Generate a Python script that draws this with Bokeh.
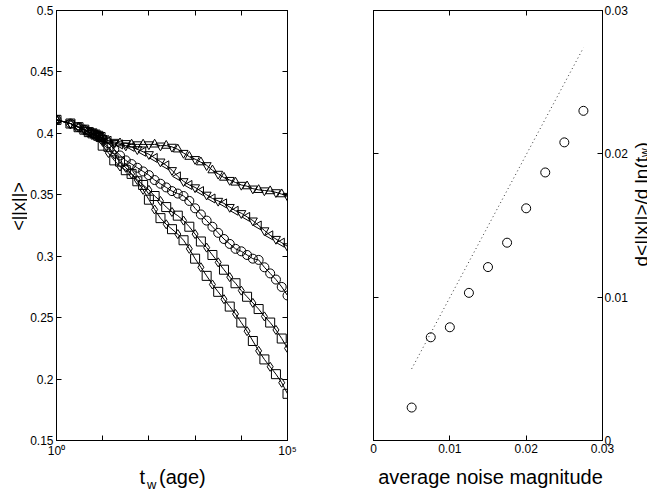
import math
from bokeh.plotting import figure
from bokeh.layouts import row, column
from bokeh.models import (LinearAxis, LogAxis, FixedTicker, CustomJSTickFormatter,
                          Range1d, Label, ColumnDataSource)
from bokeh.embed import file_html
from bokeh.resources import INLINE

# ---------------- data ----------------
t_w = [1, 2, 3, 4, 5, 6, 7, 8, 9, 10,
       13.3, 17.8, 23.7, 31.6, 42.2, 56.2, 75.0, 100,
       133, 178, 237, 316, 422, 562, 750, 1000,
       1334, 1778, 2371, 3162, 4217, 5623, 7499, 10000,
       13335, 17783, 23714, 31623, 42170, 56234, 74989, 100000]

x_a = [0.411, 0.408, 0.405, 0.403, 0.401, 0.400, 0.399, 0.398, 0.397, 0.396,
       0.394, 0.393, 0.392, 0.392, 0.391, 0.391, 0.391, 0.391,
       0.391, 0.390, 0.390, 0.389, 0.387, 0.384, 0.381, 0.379,
       0.3765, 0.374, 0.370, 0.367, 0.364, 0.362, 0.360, 0.358,
       0.357, 0.355, 0.354, 0.3535, 0.353, 0.352, 0.3505, 0.349]
x_b = [0.411, 0.408, 0.405, 0.403, 0.401, 0.400, 0.399, 0.398, 0.397, 0.396,
       0.394, 0.392, 0.391, 0.390, 0.389, 0.387, 0.385, 0.383,
       0.380, 0.377, 0.374, 0.370, 0.365, 0.361, 0.358, 0.356,
       0.353, 0.350, 0.347, 0.345, 0.343, 0.340, 0.337, 0.335,
       0.332, 0.329, 0.325, 0.321, 0.317, 0.314, 0.311, 0.308]
x_c = [0.411, 0.408, 0.405, 0.403, 0.401, 0.400, 0.399, 0.398, 0.397, 0.395,
       0.392, 0.387, 0.382, 0.378, 0.375, 0.372, 0.369, 0.366,
       0.362, 0.359, 0.356, 0.353, 0.351, 0.349, 0.345, 0.339,
       0.334, 0.329, 0.324, 0.319, 0.314, 0.310, 0.306, 0.304,
       0.301, 0.298, 0.297, 0.291, 0.286, 0.281, 0.275, 0.268]
x_d = [0.411, 0.408, 0.405, 0.403, 0.401, 0.400, 0.399, 0.398, 0.397, 0.393,
       0.389, 0.383, 0.377, 0.372, 0.367, 0.362, 0.358, 0.354,
       0.349, 0.345, 0.340, 0.336, 0.333, 0.329, 0.324, 0.318,
       0.312, 0.307, 0.301, 0.295, 0.289, 0.283, 0.278, 0.272,
       0.267, 0.262, 0.257, 0.251, 0.246, 0.240, 0.233, 0.225]
x_e = [0.411, 0.408, 0.405, 0.403, 0.401, 0.400, 0.399, 0.398, 0.397, 0.390,
       0.384, 0.378, 0.373, 0.370, 0.367, 0.361, 0.354, 0.346,
       0.338, 0.331, 0.326, 0.322, 0.318, 0.313, 0.306, 0.298,
       0.291, 0.284, 0.277, 0.271, 0.265, 0.259, 0.253, 0.246,
       0.239, 0.231, 0.223, 0.216, 0.210, 0.204, 0.197, 0.188]

noise = [0.005, 0.0075, 0.01, 0.0125, 0.015, 0.0175, 0.02, 0.0225, 0.025, 0.0275]
slope = [0.0023, 0.0072, 0.0079, 0.0103, 0.0121, 0.0138, 0.0162, 0.0187, 0.0208, 0.0230]
ref_x = [0.005, 0.0275]
ref_y = [0.005, 0.0274]

left_yticks = [0.15, 0.2, 0.25, 0.3, 0.35, 0.4, 0.45, 0.5]
left_xticks = [1, 10, 100, 1000, 10000, 100000]
right_ticks = [0, 0.01, 0.02, 0.03]

FONT = "Liberation Sans"
BLANK = "return '';"
PLOT_H = 460
STRIP_H = 29


def style_axis(ax, size="12px", standoff=3):
    ax.major_tick_in = 5
    ax.major_tick_out = 0
    ax.minor_tick_in = 0
    ax.minor_tick_out = 0
    ax.axis_line_color = "black"
    ax.major_tick_line_color = "black"
    ax.major_label_text_font = FONT
    ax.major_label_text_font_size = size
    ax.major_label_text_color = "black"
    ax.major_label_standoff = standoff


def strip(w, h):
    f = figure(width=w, height=h, x_range=Range1d(0, w), y_range=Range1d(0, h),
               x_axis_location=None, y_axis_location=None,
               output_backend="svg", toolbar_location=None,
               min_border_left=0, min_border_right=0,
               min_border_top=0, min_border_bottom=0)
    f.xgrid.visible = False
    f.ygrid.visible = False
    f.outline_line_color = None
    return f


def lbl(p, x, y, text, size="20px", angle=0.0, align="left", baseline="alphabetic"):
    p.add_layout(Label(x=x, y=y, x_units="screen", y_units="screen", text=text,
                       angle=angle, text_align=align, text_baseline=baseline,
                       text_font=FONT, text_font_size=size, text_color="black"))


# ---------------- left panel ----------------
left = figure(width=280, height=PLOT_H, x_axis_type="log",
              x_range=Range1d(1, 1e5), y_range=Range1d(0.15, 0.5),
              output_backend="svg", toolbar_location=None,
              min_border_left=28, min_border_right=20,
              min_border_top=10, min_border_bottom=18)
left.xgrid.visible = False
left.ygrid.visible = False
left.outline_line_color = "black"

left.xaxis.ticker = FixedTicker(ticks=left_xticks, minor_ticks=[])
left.xaxis.formatter = CustomJSTickFormatter(code="""
const e = Math.round(Math.log10(tick));
if (e == 0) return '10\u2070';
if (e == 5) return '10\u2075';
return '';""")
left.yaxis.ticker = FixedTicker(ticks=left_yticks, minor_ticks=[])
left.yaxis.formatter = CustomJSTickFormatter(code="return String(Math.round(tick*100)/100);")
style_axis(left.xaxis[0])
style_axis(left.yaxis[0])
top_ax = LogAxis(ticker=FixedTicker(ticks=left_xticks, minor_ticks=[]),
                 formatter=CustomJSTickFormatter(code=BLANK))
right_ax = LinearAxis(ticker=FixedTicker(ticks=left_yticks, minor_ticks=[]),
                      formatter=CustomJSTickFormatter(code=BLANK))
style_axis(top_ax)
style_axis(right_ax)
left.add_layout(top_ax, "above")
left.add_layout(right_ax, "right")

series = [
    (x_a, ["triangle", "inverted_triangle"], [0.0, 0.0]),
    (x_b, ["triangle", "inverted_triangle"], [math.pi / 2, 0.0]),
    (x_c, ["circle", "circle"], [0.0, 0.0]),
    (x_d, ["square", "diamond"], [0.0, 0.0]),
    (x_e, ["diamond", "square"], [0.0, 0.0]),
]
for vals, mk, ang in series:
    left.line(t_w, vals, line_color="black", line_width=1)
    n = len(vals)
    src = ColumnDataSource(dict(t=t_w, v=vals,
                                m=[mk[i % 2] for i in range(n)],
                                a=[ang[i % 2] for i in range(n)]))
    left.scatter("t", "v", marker="m", angle="a", source=src, size=9,
                 fill_color=None, line_color="black", line_width=1)

# y label strip (left of left panel)
ylab_l = strip(27, PLOT_H)
lbl(ylab_l, 18, PLOT_H - 226, "<||x||>", size="18px", angle=math.pi / 2,
    align="center", baseline="middle")

# x label strip (below left panel)
xlab_l = strip(307, STRIP_H)
lbl(xlab_l, 139, 13, "t", size="20px")
lbl(xlab_l, 146.5, 5, "w", size="13px")
lbl(xlab_l, 158.5, 13, "(age)", size="20px")

# ---------------- right panel ----------------
right = figure(width=323, height=PLOT_H,
               x_range=Range1d(0, 0.03), y_range=Range1d(0, 0.03),
               y_axis_location="right",
               output_backend="svg", toolbar_location=None,
               min_border_left=66, min_border_right=25,
               min_border_top=10, min_border_bottom=18)
right.xgrid.visible = False
right.ygrid.visible = False
right.outline_line_color = "black"
fmt3 = "return String(Math.round(tick*1000)/1000);"
right.xaxis.ticker = FixedTicker(ticks=right_ticks, minor_ticks=[])
right.xaxis.formatter = CustomJSTickFormatter(code=fmt3)
right.yaxis.ticker = FixedTicker(ticks=right_ticks, minor_ticks=[])
right.yaxis.formatter = CustomJSTickFormatter(code=fmt3)
style_axis(right.xaxis[0])
style_axis(right.yaxis[0], size="12px", standoff=2)
top2 = LinearAxis(ticker=FixedTicker(ticks=right_ticks, minor_ticks=[]),
                  formatter=CustomJSTickFormatter(code=BLANK))
left2 = LinearAxis(ticker=FixedTicker(ticks=right_ticks, minor_ticks=[]),
                   formatter=CustomJSTickFormatter(code=BLANK))
style_axis(top2)
style_axis(left2)
right.add_layout(top2, "above")
right.add_layout(left2, "left")

right.line(ref_x, ref_y, line_color="#333333", line_width=1, line_dash="1 3")
right.scatter(noise, slope, marker="circle", size=9, fill_color=None,
              line_color="black", line_width=1)

# y label strip (right of right panel), page x 630..647
ylab_r = strip(17, PLOT_H)
base_y = PLOT_H - 286
lbl(ylab_r, 10.5, base_y, "d<||x||>/d ln(t", size="19px", angle=math.pi / 2)
lbl(ylab_r, 14.5, base_y + 109.5, "w", size="12px", angle=math.pi / 2)
lbl(ylab_r, 10.5, base_y + 118, ")", size="19px", angle=math.pi / 2)

# x label strip (below right panel)
xlab_r = strip(340, STRIP_H)
lbl(xlab_r, 183, 13, "average noise magnitude", size="20px", align="center")

layout = column(row(ylab_l, left, right, ylab_r, spacing=0),
                row(xlab_l, xlab_r, spacing=0), spacing=0)
with open("out.html", "w", encoding="utf-8") as f:
    f.write(file_html(layout, INLINE))
